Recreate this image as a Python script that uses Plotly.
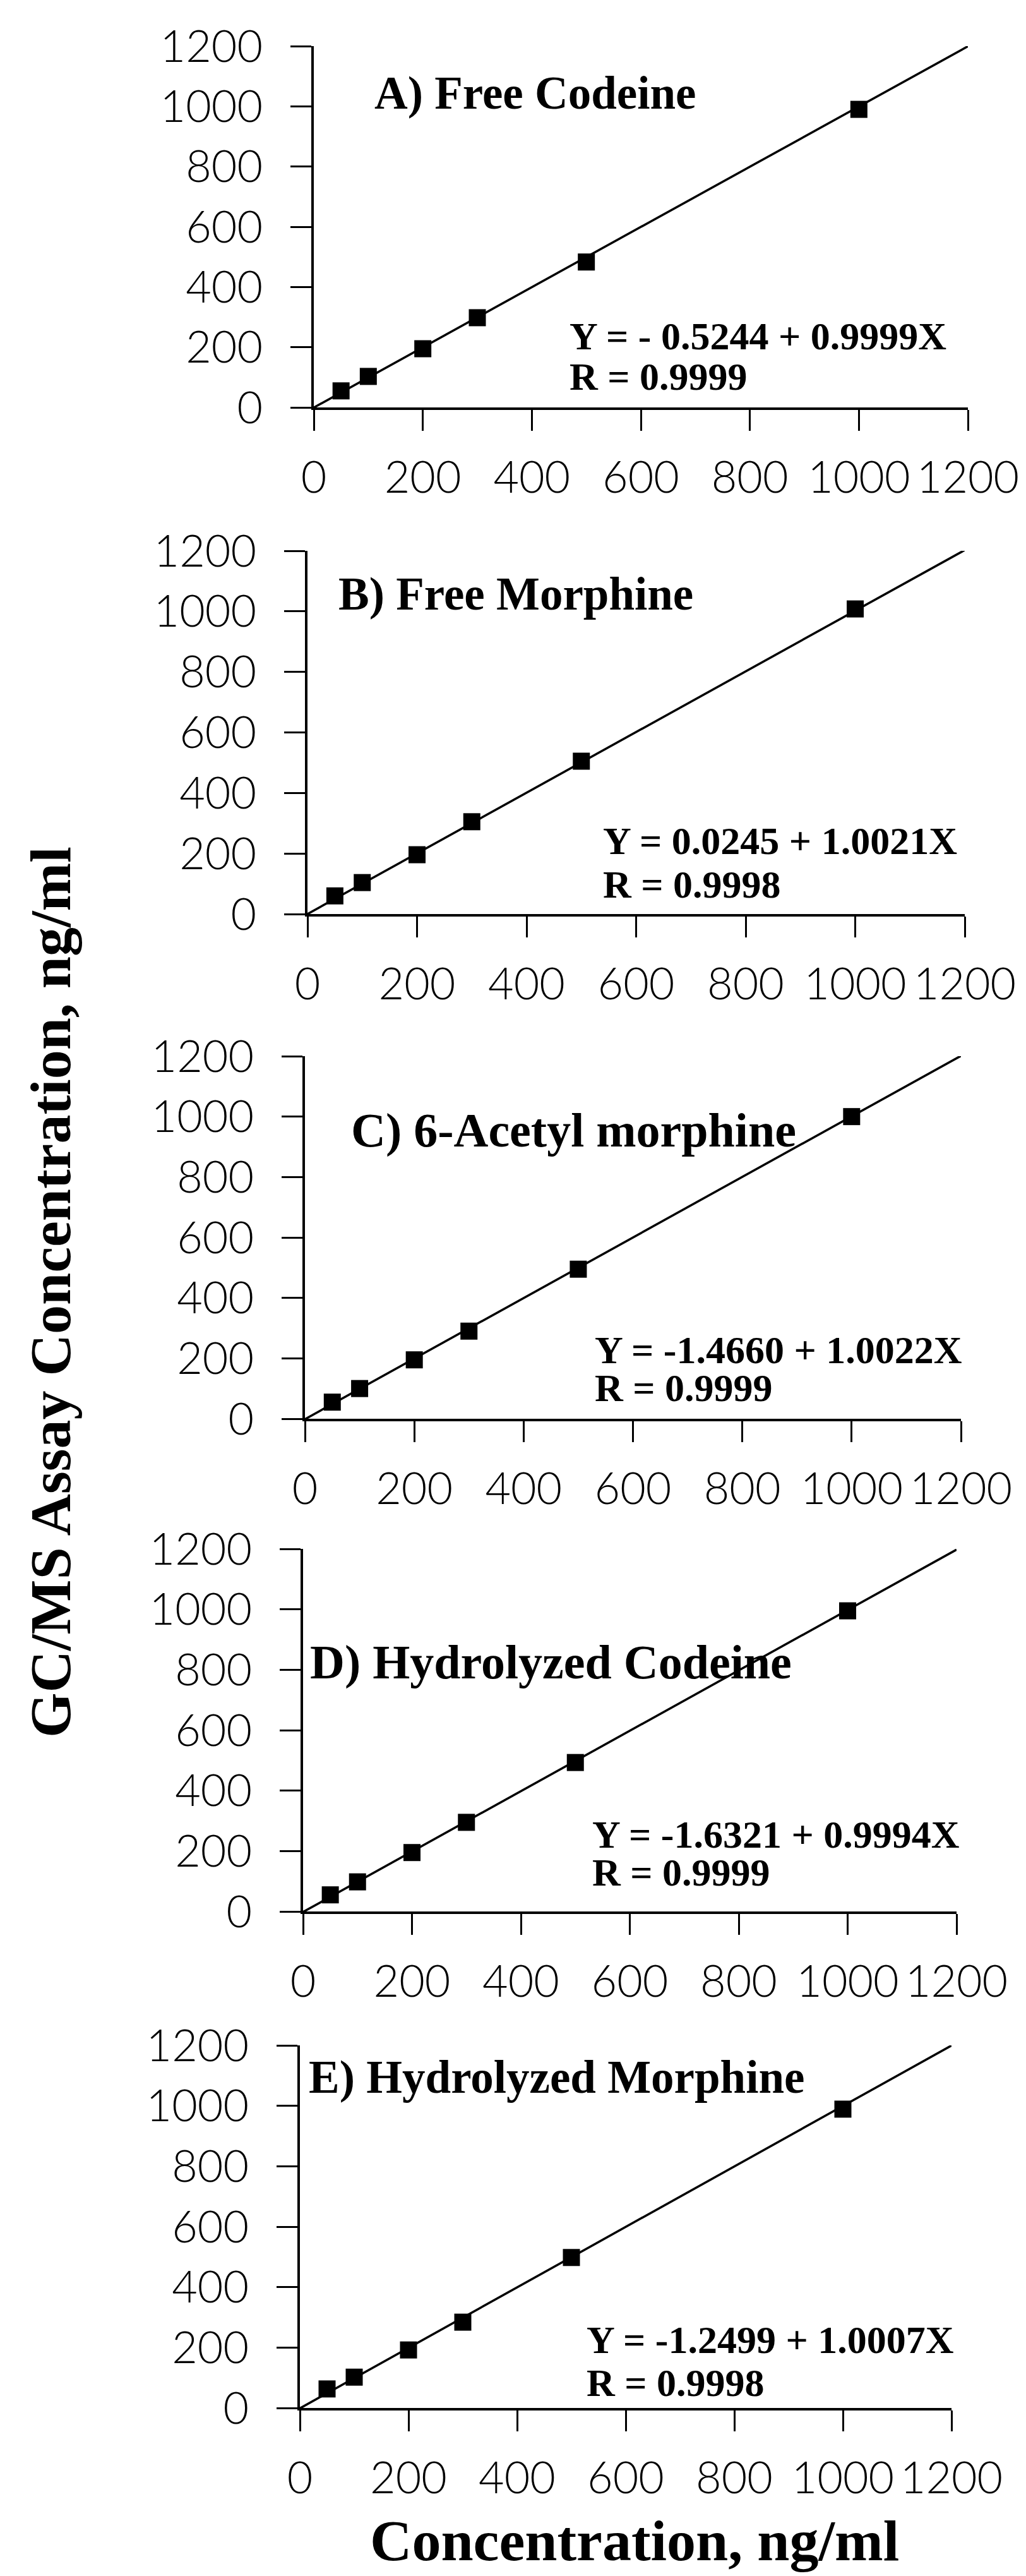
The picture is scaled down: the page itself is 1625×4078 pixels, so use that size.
import plotly.graph_objects as go

# ---------------- data ----------------
x_conc = [50, 100, 200, 300, 500, 1000]
free_codeine = [55, 103, 195, 298, 483, 990]
free_morphine = [60, 104, 196, 305, 505, 1008]
acetyl_morphine = [55, 100, 195, 290, 495, 1000]
hydro_codeine = [55, 98, 195, 295, 493, 995]
hydro_morphine = [63, 102, 192, 284, 498, 989]

panel_titles = ["A) Free Codeine", "B) Free Morphine", "C) 6-Acetyl morphine",
                "D) Hydrolyzed Codeine", "E) Hydrolyzed Morphine"]
intercepts = [-0.5244, 0.0245, -1.4660, -1.6321, -1.2499]
slopes = [0.9999, 1.0021, 1.0022, 0.9994, 1.0007]
eq_labels = ["Y = - 0.5244 + 0.9999X", "Y = 0.0245 + 1.0021X", "Y = -1.4660 + 1.0022X",
             "Y = -1.6321 + 0.9994X", "Y = -1.2499 + 1.0007X"]
r_labels = ["R = 0.9999", "R = 0.9998", "R = 0.9999", "R = 0.9999", "R = 0.9998"]
tick_vals = [0, 200, 400, 600, 800, 1000, 1200]
fit_x = [0, 1200]

series = [free_codeine, free_morphine, acetyl_morphine, hydro_codeine, hydro_morphine]

# ---------------- layout geometry (pixels) ----------------
W, H = 1625, 4078
x_px = [(497, 1533), (487, 1528), (483, 1522), (480, 1515), (475, 1507)]
y_px = [(73, 645), (872, 1447), (1672, 2246), (2452, 3026), (3238, 3812)]
title_pos = [(109, 1043), (54, 1058), (82, 955), (10, 825), (14, 1095)]
title_size = [73, 73, 76, 76, 73]
eq_pos = [(467, 237, 103), (537, 242, 98), (528, 228, 102), (529, 255, 130), (526, 226, 84)]

tick_font = dict(family="Lato", size=70, color="black", weight=300)
serif = "Liberation Serif"

fig = go.Figure()
layout = dict(width=W, height=H, autosize=False, margin=dict(l=0, r=0, t=0, b=0, autoexpand=False),
              paper_bgcolor="white", plot_bgcolor="white", showlegend=False)
annotations = []

for i in range(5):
    k = "" if i == 0 else str(i + 1)
    xa, ya = "x" + k, "y" + k
    ys = series[i]
    fit_y = [intercepts[i] + slopes[i] * v for v in fit_x]
    fig.add_trace(go.Scatter(x=fit_x, y=fit_y, mode="lines", xaxis=xa, yaxis=ya,
                             line=dict(color="black", width=3.5), cliponaxis=False))
    fig.add_trace(go.Scatter(x=x_conc, y=ys, mode="markers", xaxis=xa, yaxis=ya,
                             marker=dict(symbol="square", size=27, color="black"),
                             cliponaxis=False))
    x0, x1 = x_px[i]
    t, b = y_px[i]
    common = dict(range=[0, 1200], tickvals=tick_vals, ticks="outside", ticklen=33,
                  tickwidth=3, tickcolor="black", showline=True, linewidth=4,
                  linecolor="black", showgrid=False, zeroline=False, tickfont=tick_font,
                  automargin=False, tickangle=0)
    layout["xaxis" + k] = dict(domain=[x0 / W, x1 / W], anchor=ya,
                               ticklabelstandoff=14, **common)
    layout["yaxis" + k] = dict(domain=[1 - b / H, 1 - t / H], anchor=xa,
                               ticklabelstandoff=30, **common)
    tx, ty = title_pos[i]
    annotations.append(dict(x=tx, y=ty, xref=xa, yref=ya, xanchor="left", yanchor="middle",
                            text="<b>" + panel_titles[i] + "</b>", showarrow=False,
                            font=dict(family=serif, size=title_size[i], color="black")))
    ex, ey1, ey2 = eq_pos[i]
    annotations.append(dict(x=ex, y=ey1, xref=xa, yref=ya, xanchor="left", yanchor="middle",
                            text="<b>" + eq_labels[i] + "</b>", showarrow=False,
                            font=dict(family=serif, size=62, color="black")))
    annotations.append(dict(x=ex, y=ey2, xref=xa, yref=ya, xanchor="left", yanchor="middle",
                            text="<b>" + r_labels[i] + "</b>", showarrow=False,
                            font=dict(family=serif, size=62, color="black")))

annotations.append(dict(x=80 / W, y=1 - 2046 / H, xref="paper", yref="paper",
                        xanchor="center", yanchor="middle", textangle=-90,
                        text="<b>GC/MS Assay Concentration, ng/ml</b>", showarrow=False,
                        font=dict(family=serif, size=92, color="black")))
annotations.append(dict(x=1005 / W, y=1 - 4022 / H, xref="paper", yref="paper",
                        xanchor="center", yanchor="middle",
                        text="<b>Concentration, ng/ml</b>", showarrow=False,
                        font=dict(family=serif, size=92, color="black")))

layout["annotations"] = annotations
fig.update_layout(**layout)
fig.write_html("out.html")
